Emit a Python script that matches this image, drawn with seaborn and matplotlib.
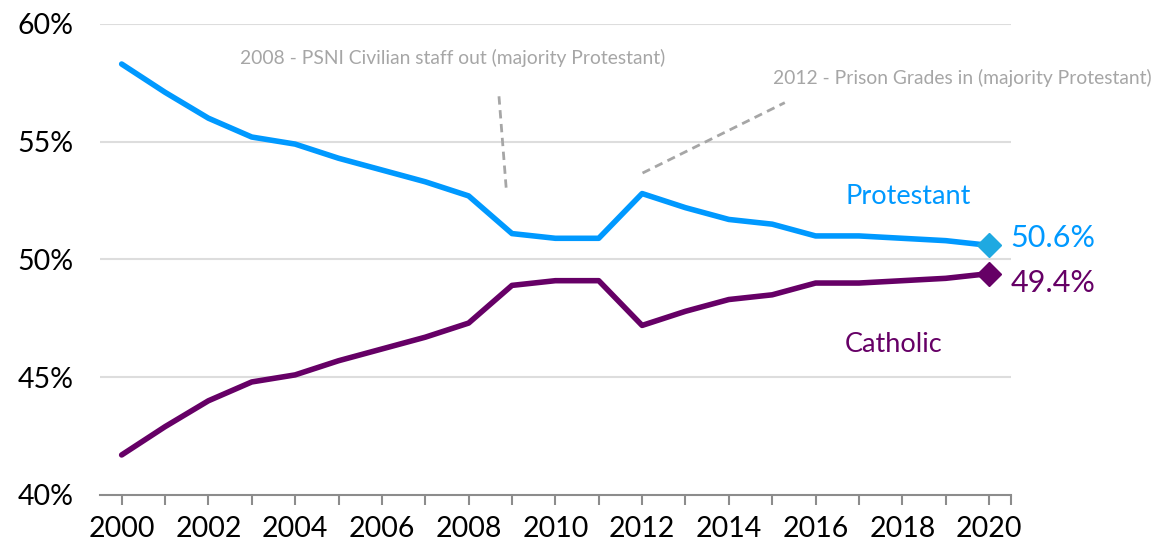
import numpy as np
import pandas as pd
import matplotlib
matplotlib.use("Agg")
import matplotlib.pyplot as plt
import seaborn as sns

years = list(range(2000, 2021))
protestant = [58.3, 57.1, 56.0, 55.2, 54.9, 54.3, 53.8, 53.3, 52.7, 51.1, 50.9,
              50.9, 52.8, 52.2, 51.7, 51.5, 51.0, 51.0, 50.9, 50.8, 50.6]
catholic = [41.7, 42.9, 44.0, 44.8, 45.1, 45.7, 46.2, 46.7, 47.3, 48.9, 49.1,
            49.1, 47.2, 47.8, 48.3, 48.5, 49.0, 49.0, 49.1, 49.2, 49.4]
series_names = ["Protestant", "Catholic"]
y_ticks = [40, 45, 50, 55, 60]
x_tick_labels = list(range(2000, 2021, 2))
note_2008 = "2008 - PSNI Civilian staff out (majority Protestant)"
note_2012 = "2012 - Prison Grades in (majority Protestant)"

BLUE = "#0099FF"
BLUE_MK = "#1FA9E1"
PURPLE = "#660066"
GREY_TXT = "#A6A6A6"

df = pd.DataFrame({
    "Year": years * 2,
    "Share": protestant + catholic,
    "Group": [series_names[0]] * len(years) + [series_names[1]] * len(years),
})

sns.set_theme(style="white")
plt.rcParams["font.family"] = ["Lato", "DejaVu Sans"]

fig = plt.figure(figsize=(11.57, 5.44), dpi=100)
ax = fig.add_axes([0.0864, 0.0901, 0.7872, 0.8658])

sns.lineplot(data=df, x="Year", y="Share", hue="Group",
             palette={series_names[0]: BLUE, series_names[1]: PURPLE},
             linewidth=4, ax=ax, legend=False)

# end markers
ax.plot([years[-1]], [protestant[-1]], marker="D", color=BLUE_MK, markersize=12, zorder=5)
ax.plot([years[-1]], [catholic[-1]], marker="D", color=PURPLE, markersize=12, zorder=5)

ax.set_xlim(1999.5, 2020.5)
ax.set_ylim(40, 60)
ax.set_yticks(y_ticks)
ax.set_yticklabels([f"{v}%" for v in y_ticks])
ax.set_xticks(x_tick_labels)
ax.set_xticklabels([str(v) for v in x_tick_labels])
ax.set_xticks([y for y in years if y % 2 == 1] + [2020.5], minor=True)
ax.set_xlabel("")
ax.set_ylabel("")

for v in y_ticks[1:]:
    ax.axhline(v, color="#DDDDDD", linewidth=1.5, zorder=0)

for s in ["left", "right", "top"]:
    ax.spines[s].set_visible(False)
ax.spines["bottom"].set_color("#8C8C8C")
ax.spines["bottom"].set_linewidth(1.5)

ax.tick_params(axis="x", which="both", direction="out", length=7, width=1.5,
               color="#8C8C8C", bottom=True, labelsize=20.5, pad=8, labelcolor="black")
ax.tick_params(axis="y", length=0, labelsize=20.5, pad=19, labelcolor="black")
ax.grid(False)

# series labels
ax.text(2016.68, 52.67, series_names[0], color=BLUE, fontsize=19.5, ha="left", va="center")
ax.text(2016.68, 46.39, series_names[1], color=PURPLE, fontsize=19.5, ha="left", va="center")
ax.text(2020.5, 50.91, f"{protestant[-1]}%", color=BLUE, fontsize=22, ha="left", va="center",
        clip_on=False)
ax.text(2020.5, 49.0, f"{catholic[-1]}%", color=PURPLE, fontsize=22, ha="left", va="center",
        clip_on=False)

# annotations
ax.text(2002.72, 58.56, note_2008, color=GREY_TXT, fontsize=13.9, ha="left", va="center")
ax.text(2015.02, 57.71, note_2012, color=GREY_TXT, fontsize=13.9, ha="left", va="center",
        clip_on=False)
ax.plot([2008.70, 2008.87], [56.93, 52.94], color=GREY_TXT, linestyle=(0, (3, 2)), linewidth=2)
ax.plot([2012.01, 2015.29], [53.67, 56.66], color=GREY_TXT, linestyle=(0, (3, 2)), linewidth=2)

fig.savefig("out.png", dpi=100)
